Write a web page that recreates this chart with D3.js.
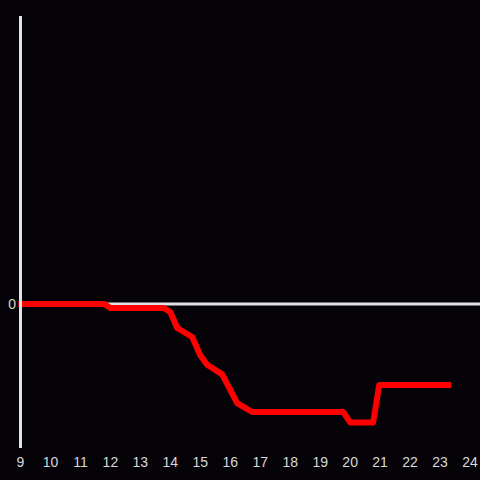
<!DOCTYPE html>
<html>
<head>
<meta charset="utf-8">
<script src="https://cdn.jsdelivr.net/npm/d3@7"></script>
<style>
  html, body { margin: 0; padding: 0; background: #050307; }
  svg { display: block; }
</style>
</head>
<body>
<svg id="chart"></svg>
<script>
"use strict";

// hour of day, value
let hours = [8.93, 11.8, 12, 13.77, 14, 14.23, 14.73, 15, 15.23, 15.73, 16.23, 16.73, 19.77, 20, 20.77, 20.97, 23.37];
let values = [0, 0, -0.125, -0.125, -0.25, -0.75, -1.03, -1.6, -1.9, -2.2, -3.1, -3.375, -3.375, -3.7, -3.7, -2.53, -2.53];
let xTicks = d3.range(9, 25);
let yTicks = [0];

let width = 480, height = 480;
let svg = d3.select('svg#chart')
  .attr('width', width)
  .attr('height', height);

let xScale = d3.scaleLinear().domain([9, 24]).range([20.5, 470]);
let yScale = d3.scaleLinear().domain([-4.5, 9]).range([448, 16]);

let axisColour = '#e2e2e2';

/* line */
let points = hours.map((h, i) => [h, values[i]]);
let drawLine = d3.line()
  .x(d => xScale(d[0]))
  .y(d => yScale(d[1]));

/* x axis line at zero */
svg.append('line')
  .attr('x1', xScale(9)).attr('x2', width)
  .attr('y1', yScale(0)).attr('y2', yScale(0))
  .attr('stroke', axisColour)
  .attr('stroke-width', 3);

svg.append('path')
  .attr('d', drawLine(points))
  .attr('fill', 'none')
  .attr('stroke', '#ff0000')
  .attr('stroke-width', 6)
  .attr('stroke-linejoin', 'round');

/* y axis line */
svg.append('line')
  .attr('x1', xScale(9)).attr('x2', xScale(9))
  .attr('y1', 16).attr('y2', 448)
  .attr('stroke', axisColour)
  .attr('stroke-width', 3);

/* tick labels */
svg.selectAll('text.xtick')
  .data(xTicks)
  .enter()
  .append('text')
  .attr('class', 'xtick')
  .attr('x', d => xScale(d))
  .attr('y', 467)
  .attr('text-anchor', 'middle')
  .attr('fill', '#d8d8d8')
  .style('font', '14px "Liberation Sans", Arial, sans-serif')
  .text(d => d);

svg.selectAll('text.ytick')
  .data(yTicks)
  .enter()
  .append('text')
  .attr('class', 'ytick')
  .attr('x', 16)
  .attr('y', d => yScale(d))
  .attr('dy', '0.35em')
  .attr('text-anchor', 'end')
  .attr('fill', '#d8d8d8')
  .style('font', '14px "Liberation Sans", Arial, sans-serif')
  .text(d => d);
</script>
</body>
</html>
